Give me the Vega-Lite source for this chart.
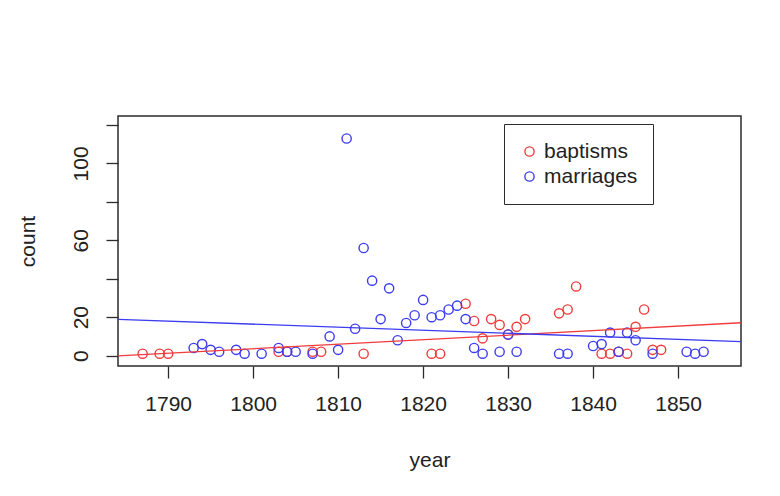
{
  "$schema": "https://vega.github.io/schema/vega-lite/v6.json",
  "width": 623,
  "height": 250,
  "autosize": {"type": "none"},
  "padding": {"left": 118, "top": 116, "right": 39, "bottom": 130},
  "background": "white",
  "config": {
    "font": "Liberation Sans",
    "view": {"stroke": "#2b2b2b", "strokeWidth": 1.5}
  },
  "datasets": {
    "points": [
      {"year": 1787, "count": 1, "series": "baptisms"},
      {"year": 1789, "count": 1, "series": "baptisms"},
      {"year": 1790, "count": 1, "series": "baptisms"},
      {"year": 1803, "count": 2, "series": "baptisms"},
      {"year": 1804, "count": 2, "series": "baptisms"},
      {"year": 1807, "count": 2, "series": "baptisms"},
      {"year": 1808, "count": 2, "series": "baptisms"},
      {"year": 1813, "count": 1, "series": "baptisms"},
      {"year": 1821, "count": 1, "series": "baptisms"},
      {"year": 1822, "count": 1, "series": "baptisms"},
      {"year": 1825, "count": 27, "series": "baptisms"},
      {"year": 1826, "count": 18, "series": "baptisms"},
      {"year": 1827, "count": 9, "series": "baptisms"},
      {"year": 1828, "count": 19, "series": "baptisms"},
      {"year": 1829, "count": 16, "series": "baptisms"},
      {"year": 1830, "count": 11, "series": "baptisms"},
      {"year": 1831, "count": 15, "series": "baptisms"},
      {"year": 1832, "count": 19, "series": "baptisms"},
      {"year": 1836, "count": 22, "series": "baptisms"},
      {"year": 1837, "count": 24, "series": "baptisms"},
      {"year": 1838, "count": 36, "series": "baptisms"},
      {"year": 1841, "count": 1, "series": "baptisms"},
      {"year": 1842, "count": 1, "series": "baptisms"},
      {"year": 1843, "count": 2, "series": "baptisms"},
      {"year": 1844, "count": 1, "series": "baptisms"},
      {"year": 1845, "count": 15, "series": "baptisms"},
      {"year": 1846, "count": 24, "series": "baptisms"},
      {"year": 1847, "count": 3, "series": "baptisms"},
      {"year": 1848, "count": 3, "series": "baptisms"},
      {"year": 1793, "count": 4, "series": "marriages"},
      {"year": 1794, "count": 6, "series": "marriages"},
      {"year": 1795, "count": 3, "series": "marriages"},
      {"year": 1796, "count": 2, "series": "marriages"},
      {"year": 1798, "count": 3, "series": "marriages"},
      {"year": 1799, "count": 1, "series": "marriages"},
      {"year": 1801, "count": 1, "series": "marriages"},
      {"year": 1803, "count": 4, "series": "marriages"},
      {"year": 1804, "count": 2, "series": "marriages"},
      {"year": 1805, "count": 2, "series": "marriages"},
      {"year": 1807, "count": 1, "series": "marriages"},
      {"year": 1809, "count": 10, "series": "marriages"},
      {"year": 1810, "count": 3, "series": "marriages"},
      {"year": 1811, "count": 113, "series": "marriages"},
      {"year": 1812, "count": 14, "series": "marriages"},
      {"year": 1813, "count": 56, "series": "marriages"},
      {"year": 1814, "count": 39, "series": "marriages"},
      {"year": 1815, "count": 19, "series": "marriages"},
      {"year": 1816, "count": 35, "series": "marriages"},
      {"year": 1817, "count": 8, "series": "marriages"},
      {"year": 1818, "count": 17, "series": "marriages"},
      {"year": 1819, "count": 21, "series": "marriages"},
      {"year": 1820, "count": 29, "series": "marriages"},
      {"year": 1821, "count": 20, "series": "marriages"},
      {"year": 1822, "count": 21, "series": "marriages"},
      {"year": 1823, "count": 24, "series": "marriages"},
      {"year": 1824, "count": 26, "series": "marriages"},
      {"year": 1825, "count": 19, "series": "marriages"},
      {"year": 1826, "count": 4, "series": "marriages"},
      {"year": 1827, "count": 1, "series": "marriages"},
      {"year": 1829, "count": 2, "series": "marriages"},
      {"year": 1830, "count": 11, "series": "marriages"},
      {"year": 1831, "count": 2, "series": "marriages"},
      {"year": 1836, "count": 1, "series": "marriages"},
      {"year": 1837, "count": 1, "series": "marriages"},
      {"year": 1840, "count": 5, "series": "marriages"},
      {"year": 1841, "count": 6, "series": "marriages"},
      {"year": 1842, "count": 12, "series": "marriages"},
      {"year": 1843, "count": 2, "series": "marriages"},
      {"year": 1844, "count": 12, "series": "marriages"},
      {"year": 1845, "count": 8, "series": "marriages"},
      {"year": 1847, "count": 1, "series": "marriages"},
      {"year": 1851, "count": 2, "series": "marriages"},
      {"year": 1852, "count": 1, "series": "marriages"},
      {"year": 1853, "count": 2, "series": "marriages"}
    ],
    "fits": [
      {"year": 1784.1, "count": -0.15, "series": "baptisms"},
      {"year": 1857.4, "count": 17.1, "series": "baptisms"},
      {"year": 1784.1, "count": 18.9, "series": "marriages"},
      {"year": 1857.4, "count": 7.3, "series": "marriages"}
    ]
  },
  "encoding": {
    "x": {
      "field": "year",
      "type": "quantitative",
      "scale": {"domain": [1784.1, 1857.4], "nice": false, "zero": false},
      "axis": {
        "values": [1790, 1800, 1810, 1820, 1830, 1840, 1850],
        "format": "d",
        "grid": false,
        "domain": false,
        "tickSize": 12,
        "tickWidth": 1.3,
        "tickColor": "#2b2b2b",
        "labelFontSize": 21,
        "labelColor": "#222222",
        "labelPadding": 15,
        "title": "year",
        "titleFontSize": 21,
        "titleFontWeight": "normal",
        "titleColor": "#222222",
        "titleX": 311.5,
        "titleY": 94,
        "titleBaseline": "middle",
        "titleAlign": "center"
      }
    },
    "y": {
      "field": "count",
      "type": "quantitative",
      "scale": {"domain": [-5.4, 124.7], "nice": false, "zero": false},
      "axis": {
        "values": [0, 20, 40, 60, 80, 100, 120],
        "labelExpr": "datum.value == 0 || datum.value == 20 || datum.value == 60 || datum.value == 100 ? datum.label : ''",
        "grid": false,
        "domain": false,
        "tickSize": 12,
        "tickWidth": 1.3,
        "tickColor": "#2b2b2b",
        "labelFontSize": 21,
        "labelColor": "#222222",
        "labelAngle": -90,
        "labelAlign": "center",
        "labelBaseline": "alphabetic",
        "labelPadding": 19,
        "title": "count",
        "titleFontSize": 21,
        "titleFontWeight": "normal",
        "titleColor": "#222222",
        "titleAngle": -90,
        "titleX": -90,
        "titleY": 125,
        "titleBaseline": "middle",
        "titleAlign": "center"
      }
    },
    "color": {
      "field": "series",
      "type": "nominal",
      "scale": {"domain": ["baptisms", "marriages"], "range": ["#f03c3c", "#3c3cf0"]},
      "legend": {
        "orient": "none",
        "legendX": 386,
        "legendY": 8,
        "title": null,
        "strokeColor": "#2b2b2b",
        "fillColor": "white",
        "padding": 15,
        "rowPadding": 0,
        "clipHeight": 25,
        "labelFontSize": 21,
        "labelColor": "#222222",
        "labelOffset": 4,
        "symbolSize": 85,
        "symbolStrokeWidth": 1.4,
        "symbolType": "circle",
        "symbolFillColor": "transparent"
      }
    }
  },
  "layer": [
    {
      "data": {"name": "points"},
      "mark": {"type": "point", "shape": "circle", "filled": false, "size": 85, "strokeWidth": 1.4, "opacity": 1}
    },
    {
      "data": {"name": "fits"},
      "mark": {"type": "line", "clip": true, "strokeWidth": 1.3}
    }
  ]
}
